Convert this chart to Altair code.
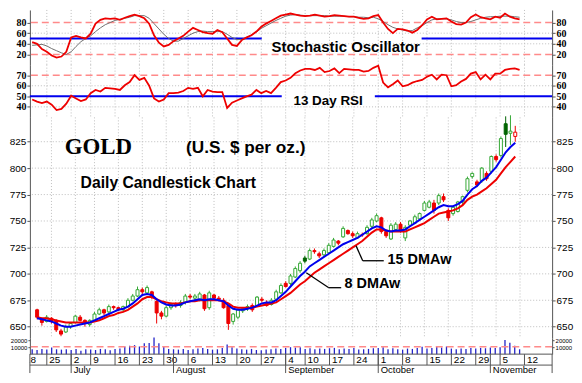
import altair as alt
import pandas as pd

# ---------------------------------------------------------------- data
# trading-day index: 0 = Mon 18 Jun 2007; first candle = index 2 (Wed 20 Jun)
FIRST_DAY = 2
OPEN = [666,657,655,658,656,646,645,650,654,659,
        656,652,656,662,666,664,669,668,666,669,
        675,679,685,682,683,674,663,660,668,671,
        670,673,679,677,675,680,668,680,677,675,
        670,655,659,665,667,670,670,676,673,671,
        676,682,691,691,697,703,715,714,722,719,
        718,720,726,731,735,741,738,734,737,738,
        745,750,753,740,733,742,747,734,746,748,
        752,760,763,767,767,773,760,757,759,768,
        779,792,787,788,795,797,811,812,842,833,
        830]
HIGH = [667,658,661,659,657,648,652,654,661,661,
        657,657,664,668,667,671,670,669,670,677,
        681,688,687,689,684,675,665,670,673,673,
        675,681,681,681,683,681,684,681,679,677,
        671,663,667,668,671,672,679,678,675,677,
        685,691,693,700,707,712,717,724,724,721,
        724,729,734,732,745,742,740,740,739,746,
        753,757,754,741,748,749,749,746,751,756,
        758,769,770,770,776,776,762,764,769,774,
        792,796,789,801,797,812,813,830,849,850,
        840]
LOW = [657,651,654,653,645,641,644,648,653,655,
       650,650,655,661,661,663,666,665,664,668,
       674,678,681,680,676,653,657,659,666,668,
       668,671,676,675,674,665,666,676,674,667,
       647,652,657,663,665,664,669,673,669,670,
       675,681,687,689,696,701,710,713,719,715,
       716,719,725,727,734,737,734,733,735,737,
       743,749,738,734,732,740,739,731,745,747,
       750,759,762,757,765,768,750,755,758,766,
       777,790,782,786,788,795,806,810,820,822,
       825]
CLOSE = [659,654,659,655,647,643,650,653,660,656,
         653,656,662,666,663,669,668,666,669,675,
         679,685,683,687,678,663,660,668,671,670,
         673,679,678,679,681,667,682,677,676,668,
         653,662,666,667,669,666,678,675,670,675,
         683,689,688,698,705,710,712,722,721,717,
         722,727,732,729,743,738,736,738,737,744,
         751,755,740,736,746,747,741,744,750,754,
         757,767,768,760,774,770,753,763,768,773,
         790,795,784,800,790,811,808,828,832,835,
         834]
MA8 = [658,657,656,655,653,651,650,650,651,652,
       653,654,656,658,660,662,664,666,667,669,
       672,676,680,681,680,676,673,671,670,670,
       671,673,674,675,676,675,676,676,675,674,
       670,667,666,666,667,668,670,672,673,673,
       675,679,683,688,693,698,702,707,710,713,
       716,719,722,725,728,730,732,734,737,740,
       743,745,744,741,740,741,741,742,745,748,
       751,754,757,760,763,765,764,764,766,769,
       775,780,783,788,791,796,801,808,815,820,
       824]
MA15 = [659,658,658,657,656,655,654,654,654,654,
        654,654,655,656,658,660,661,663,664,666,
        669,672,676,678,678,676,674,673,672,672,
        672,673,674,674,675,675,675,675,675,674,
        672,669,668,668,668,668,669,670,671,672,
        673,676,679,682,686,690,693,697,701,704,
        707,710,713,716,719,722,725,728,731,735,
        739,742,742,741,740,740,740,740,742,744,
        746,748,751,754,757,758,759,760,762,765,
        770,773,775,778,781,785,789,795,801,806,
        811]
STOCH_K = [43,40,30,25,18,14,16,25,52,55,
           52,50,59,78,85,88,87,88,85,89,
           92,95,92,88,78,56,42,35,38,45,
           50,55,63,70,66,62,60,59,66,62,
           50,38,36,47,52,56,63,72,78,83,
           88,93,95,97,95,93,92,93,95,93,
           91,92,94,93,92,91,91,89,87,88,
           92,94,80,68,60,68,67,65,61,66,
           75,86,91,86,87,88,82,77,76,80,
           90,95,90,88,86,91,89,97,91,88,
           86]
STOCH_D = [37,38,39,36,31,27,23,20,25,35,
           44,50,55,63,70,76,80,84,86,88,
           90,93,93,93,88,78,68,58,50,45,
           45,50,55,60,63,64,63,63,63,63,
           58,52,48,48,52,57,62,69,74,79,
           84,88,92,94,95,94,93,93,93,93,
           93,92,92,92,92,91,91,90,90,89,
           90,87,82,76,71,68,66,64,65,70,
           74,80,85,87,87,87,85,82,80,80,
           82,85,88,90,91,91,92,92,92,91,
           90]
RSI13 = [47,45,43.5,45,42,37,38,43,50.5,48,
         45.5,47,53,56,54.5,58,57.5,57,56,60.5,
         63.5,70,65.6,67.5,60,48,45,47,53,53,
         53.5,55,58,57,58,50,56,54.5,54,54,
         39,44,46,48,50,51.5,56,53,55,53,
         58,63.5,65,67.5,71.8,74.5,76,76,75,77,
         73,74,76.5,72,76,75.5,75,75,73.5,74,
         77,79,63,58.5,61.5,65,59.5,60.5,63,64.5,
         65.5,68.5,70.5,66,70.5,70,59.5,60.5,64,66.5,
         71.5,73,66,70.5,66,71.5,71.5,75,76,76.5,
         75]
VOLUME = [7000,6000,7500,6500,9500,7000,6500,7000,6000,7500,
          5000,7000,6500,6000,7500,7000,5500,7500,8000,11000,
          12000,13000,11000,15500,16000,24000,15500,10500,7500,7000,
          6500,7500,6000,7000,8000,9000,7500,6500,7000,9000,
          14000,10000,8000,7000,6500,7500,6000,5500,6500,7000,
          8000,7500,9000,10000,9500,10000,7500,8500,7000,8000,
          7500,8500,9000,7000,8000,7500,9000,6500,7000,7500,
          8500,9000,10000,7000,8500,7000,6500,8000,7500,9000,
          10500,8000,9000,10500,9500,11000,8000,7000,8000,7500,
          9000,8000,9000,8500,9500,9000,10000,20500,16500,12000,
          7000]
VOL_AVG = 10500

WEEK_IDX = [0,5,10,14,19,24,29,34,39,44,49,54,58,63,68,73,78,83,88,93,98,103]
WEEK_LBL = ["18","25","2","9","16","23","30","6","13","20","27",
            "4","10","17","24","1","8","15","22","29","5","12"]
MONTH_IDX = [10,31,54,73,96]
MONTH_LBL = ["July","August","September","October","November"]

PRICE_TICKS = [650,675,700,725,750,775,800,825]
STOCH_TICKS = [20,40,60,80]
RSI_TICKS = [40,50,60,70]
VOL_TICKS = [10000,20000]

# ---------------------------------------------------------------- style
W = 525
X_DOM = [1.53, 108.67]
FONT = "Liberation Sans"
SERIF = "Liberation Serif"
BLUE = "#0000ee"
RED = "#ee0000"
PINK = "#ff8a8a"
GRID = "#bdbdbd"
GREEN = "#35a835"
DKGREEN = "#006400"
AXC = "#555555"

n = len(CLOSE)
df = pd.DataFrame(dict(i=list(range(FIRST_DAY, FIRST_DAY + n)), o=OPEN, h=HIGH, l=LOW,
                       c=CLOSE, ma8=MA8, ma15=MA15, k=STOCH_K, d=STOCH_D,
                       rsi=RSI13, vol=VOLUME))
prev = df["c"].shift(1).fillna(df["o"])
strokes, fills = [], []
for o, c, p in zip(df["o"], df["c"], prev):
    up = c >= p
    if c > o:
        strokes.append(GREEN if up else RED)
        fills.append("#ffffff")
    else:
        col = DKGREEN if up else RED
        strokes.append(col)
        fills.append(col)
df["sc"] = strokes
df["fc"] = fills

wk_all = pd.DataFrame({"i": WEEK_IDX, "lbl": WEEK_LBL})
wk_in = wk_all[(wk_all["i"] > X_DOM[0]) & (wk_all["i"] < X_DOM[1])]
mon = pd.DataFrame({"i": MONTH_IDX, "lbl": MONTH_LBL})

XS = alt.Scale(domain=X_DOM, nice=False, zero=False)


def X(field="i"):
    return alt.X(f"{field}:Q", scale=XS, axis=None)


def Y(field, dom, axis=None):
    return alt.Y(f"{field}:Q", scale=alt.Scale(domain=dom, nice=False, zero=False), axis=axis)


def axis(orient, values, font=FONT, size=10, weight="normal", tick=3):
    return alt.Axis(orient=orient, values=values, labelFont=font, labelFontSize=size,
                    labelFontWeight=weight, labelColor="#000000", tickSize=tick,
                    tickColor=AXC, domainColor=AXC, labelPadding=1, grid=False,
                    labelOverlap=False, title=None, format="d")


def vgrid():
    return alt.Chart(wk_in).mark_rule(color=GRID, strokeDash=[1, 2], strokeWidth=1).encode(x=X())


def hrules(values, dom, color, dash, width, ax=None):
    return alt.Chart(pd.DataFrame({"v": values})).mark_rule(
        color=color, strokeDash=dash, strokeWidth=width).encode(y=Y("v", dom, ax))


def right_axis(values, dom, **kw):
    return alt.Chart(pd.DataFrame({"v": values})).mark_point(opacity=0, size=1).encode(
        y=Y("v", dom, axis("right", values, **kw)))


def label(text, xpx, ypx, size, weight="bold", font=FONT):
    return alt.Chart(pd.DataFrame({"t": [text]})).mark_text(
        align="left", baseline="middle", font=font, fontSize=size, fontWeight=weight,
        color="#000000").encode(x=alt.value(xpx), y=alt.value(ypx), text="t:N")


def panel(layers, h):
    return alt.layer(*layers).resolve_scale(y="independent").properties(width=W, height=h)


# ---------------------------------------------------------------- stochastic
SD = [0.7, 103.7]
stoch_blue = pd.DataFrame({"a": [X_DOM[0], 81.9], "b": [49.1, X_DOM[1]], "v": [50, 50]})
p_stoch = panel([
    vgrid(),
    hrules([40, 60], SD, GRID, [1, 2], 1,
           axis("left", STOCH_TICKS, font=SERIF, weight="bold")),
    hrules([20, 80], SD, PINK, [7, 4], 1.5),
    alt.Chart(stoch_blue).mark_rule(color=BLUE, strokeWidth=2).encode(
        x=X("a"), x2="b", y=Y("v", SD)),
    alt.Chart(df).mark_line(color="#707070", strokeWidth=1).encode(x=X(), y=Y("d", SD)),
    alt.Chart(df).mark_line(color=RED, strokeWidth=1.8).encode(x=X(), y=Y("k", SD)),
    label("Stochastic Oscillator", 243, 37, 15),
    right_axis(STOCH_TICKS, SD, font=SERIF, weight="bold"),
], 55)

# ---------------------------------------------------------------- RSI
RD = [30, 80]
rsi_blue = pd.DataFrame({"a": [X_DOM[0], 72.3], "b": [53.2, X_DOM[1]], "v": [50, 50]})
p_rsi = panel([
    vgrid(),
    hrules([40, 60], RD, GRID, [1, 2], 1,
           axis("left", RSI_TICKS, font=SERIF, weight="bold")),
    hrules([70], RD, PINK, [7, 4], 1.5),
    alt.Chart(rsi_blue).mark_rule(color=BLUE, strokeWidth=2).encode(
        x=X("a"), x2="b", y=Y("v", RD)),
    alt.Chart(df).mark_line(color=RED, strokeWidth=1.8).encode(x=X(), y=Y("rsi", RD)),
    label("13 Day RSI", 265, 37, 13.5),
    right_axis(RSI_TICKS, RD, font=SERIF, weight="bold"),
], 53)

# ---------------------------------------------------------------- price
PD = [639.1, 848]
leaders = pd.DataFrame({"x1": [58.3, 63.0, 68.7, 70.1], "x2": [63.0, 65.6, 70.1, 74.5],
                        "y1": [701.0, 686.9, 726.5, 712.4], "y2": [686.9, 686.9, 712.4, 712.4]})
ma_lbl = pd.DataFrame({"t": ["8 DMAw", "15 DMAw"], "x": [66.3, 75.3], "y": [690.5, 713.3]})
p_price = panel([
    vgrid(),
    hrules(PRICE_TICKS, PD, GRID, [1, 2], 1, axis("left", PRICE_TICKS)),
    alt.Chart(df).mark_rule(strokeWidth=1).encode(
        x=X(), y=Y("l", PD), y2="h", color=alt.Color("sc:N", scale=None)),
    alt.Chart(df).mark_bar(size=3, strokeWidth=1).encode(
        x=X(), y=Y("o", PD), y2="c",
        fill=alt.Fill("fc:N", scale=None), stroke=alt.Stroke("sc:N", scale=None)),
    alt.Chart(df).mark_line(color=RED, strokeWidth=2).encode(x=X(), y=Y("ma15", PD)),
    alt.Chart(df).mark_line(color=BLUE, strokeWidth=2).encode(x=X(), y=Y("ma8", PD)),
    alt.Chart(leaders).mark_rule(color="#000000", strokeWidth=1.3).encode(
        x=X("x1"), x2="x2", y=Y("y1", PD), y2="y2"),
    alt.Chart(ma_lbl).mark_text(align="left", baseline="middle", font=FONT, fontSize=14.5,
                                fontWeight="bold", color="#000000").encode(
        x=X("x"), y=Y("y", PD), text="t:N"),
    label("GOLD", 35, 30, 23, font=SERIF),
    label("(U.S. $ per oz.)", 157, 31, 17.3),
    label("Daily Candlestick Chart", 51, 66, 15.8),
    right_axis(PRICE_TICKS, PD),
], 222)

# ---------------------------------------------------------------- volume
VD = [0, 22900]
p_vol = panel([
    alt.Chart(df).mark_rule(color="#2323c8", strokeWidth=1.3).encode(
        x=X(), y=Y("vol", VD, axis("left", VOL_TICKS, size=6, tick=2)), y2=alt.datum(0)),
    hrules([VOL_AVG], VD, PINK, [7, 4], 1.5),
    right_axis(VOL_TICKS, VD, size=6, tick=2),
], 16)

# ---------------------------------------------------------------- date rows
one = pd.DataFrame({"z": [0]})


def seg(x1, x2, y1, y2, color=AXC, width=1):
    return alt.Chart(one).mark_rule(color=color, strokeWidth=width).encode(
        x=alt.value(x1), x2=alt.value(x2), y=alt.value(y1), y2=alt.value(y2))


p_date = alt.layer(
    seg(0, W, 0, 0),
    seg(0, W, 11, 11),
    seg(0, 0, 0, 19),
    seg(W, W, 0, 19),
    alt.Chart(wk_in).mark_rule(color=AXC, strokeWidth=1).encode(
        x=X(), y=alt.value(0), y2=alt.value(11)),
    alt.Chart(wk_all).mark_text(align="left", baseline="middle", dx=2.5, font=FONT,
                                fontSize=10, color="#000000", clip=True).encode(
        x=X(), y=alt.value(5.5), text="lbl:N"),
    alt.Chart(mon).mark_rule(color=AXC, strokeWidth=1).encode(
        x=X(), y=alt.value(0), y2=alt.value(19)),
    alt.Chart(mon).mark_text(align="left", baseline="middle", dx=2.5, font=FONT,
                             fontSize=9.5, color="#000000").encode(
        x=X(), y=alt.value(15.5), text="lbl:N"),
).properties(width=W, height=19)

chart = alt.vconcat(p_stoch, p_rsi, p_price, p_vol, p_date, spacing=0, bounds="flush").properties(
    padding={"left": 0, "top": 0, "right": 0, "bottom": 0}, background="#ffffff"
).configure_view(stroke="transparent")

chart.save("out.html", embed_options={"renderer": "svg", "actions": False})
